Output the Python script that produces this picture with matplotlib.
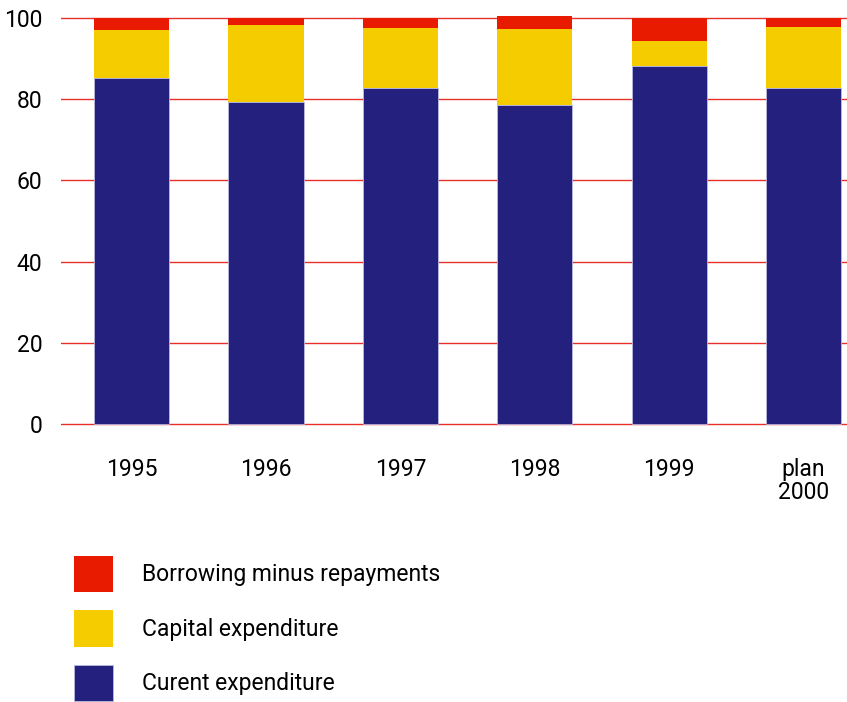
import matplotlib.pyplot as plt
import numpy as np

years = ['1995', '1996', '1997', '1998', '1999', 'plan\n2000']
current = [85.2, 79.4, 82.8, 78.6, 88.3, 82.8]
capital = [11.9, 18.8, 14.7, 18.8, 6.0, 15.1]
borrowing = [2.9, 1.8, 2.5, 3.0, 5.7, 2.1]

plt.rcParams['font.family'] = ['Roboto', 'DejaVu Sans']
fs = 16.5

fig = plt.figure(figsize=(8.47, 7.02), dpi=100)
# y range -0.5..101 so the zero gridline is not clipped
ppu = 4.06
ax = fig.add_axes([61 / 847, (278 - 0.5 * ppu) / 702, 1 - 61 / 847, (101.5 * ppu) / 702])

x = np.arange(len(years))
w = 0.56
b1 = ax.bar(x, current, w, color='#24207E', edgecolor='#b8b8e0', linewidth=0.6, zorder=3)
b2 = ax.bar(x, capital, w, bottom=current, color='#F5CC00', zorder=3)
bottom2 = np.array(current) + np.array(capital)
b3 = ax.bar(x, borrowing, w, bottom=bottom2, color='#E81A00', zorder=3)

ax.set_ylim(-0.5, 101)
ax.set_xlim(-0.525, 5.323)
ax.set_yticks([0, 20, 40, 60, 80, 100])
ax.yaxis.grid(True, color='#e8302a', linewidth=1.0, zorder=0)
ax.set_axisbelow(True)
for s in ax.spines.values():
    s.set_visible(False)
ax.set_xticks(x)
ax.set_xticklabels(years, fontsize=fs, linespacing=1.0)
ax.tick_params(axis='both', length=0, labelsize=fs)
ax.tick_params(axis='x', pad=23)
ax.tick_params(axis='y', pad=13.5)

fig.legend([b3, b2, b1],
           ['Borrowing minus repayments', 'Capital expenditure', 'Curent expenditure'],
           loc='upper left', bbox_to_anchor=(74 / 847, 1 - 556 / 702),
           frameon=False, fontsize=fs, borderpad=0, borderaxespad=0,
           handlelength=1.7, handleheight=2.05, handletextpad=1.25, labelspacing=0.8)

fig.savefig('out.png', dpi=100)
